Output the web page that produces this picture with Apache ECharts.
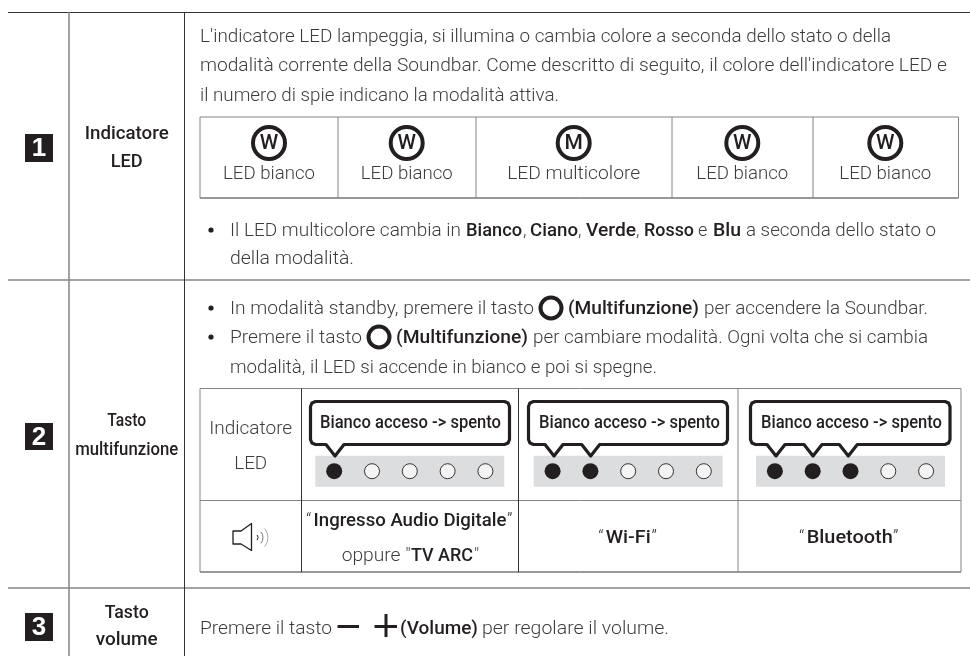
<!DOCTYPE html>
<html>
<head>
<meta charset="utf-8">
<title>Indicatore LED</title>
<script src="https://cdn.jsdelivr.net/npm/echarts@6/dist/echarts.min.js"></script>
<style>
html,body{margin:0;padding:0;background:#fff;}
#main{width:970px;height:656px;}
</style>
</head>
<body>
<div id="main"></div>
<script>
// testi della tabella
var badges = ['1', '2', '3'];
var rowTitles = [['Indicatore', 'LED'], ['Tasto', 'multifunzione'], ['Tasto', 'volume']];
var introLines = [
    "L'indicatore LED lampeggia, si illumina o cambia colore a seconda dello stato o della",
    "modalità corrente della Soundbar. Come descritto di seguito, il colore dell'indicatore LED e",
    "il numero di spie indicano la modalità attiva."
];
var ledLetters = ['W', 'W', 'M', 'W', 'W'];
var ledNames = ['LED bianco', 'LED bianco', 'LED multicolore', 'LED bianco', 'LED bianco'];
var calloutText = 'Bianco acceso -> spento';
var modeNames = ['Wi-Fi', 'Bluetooth'];
var ledCategories = ['1', '2', '3', '4', '5'];
// 1 = acceso, 0 = spento
var ledStrip1 = [1, 0, 0, 0, 0];
var ledStrip2 = [1, 1, 0, 0, 0];
var ledStrip3 = [1, 1, 1, 0, 0];

var DARK = '#231f20', TXT = '#3c3c3c', GREY = '#848484';
var LIGHT = '300 18px Roboto', BOLD = '500 18px Roboto';

var ctx = document.createElement('canvas').getContext('2d');
var els = [];

function seg(str, x, y, w, font, fill, align) {
    font = font || LIGHT;
    ctx.font = font;
    var scale = w ? w / ctx.measureText(str).width : 1;
    els.push({
        type: 'text', x: x, y: y + 1, scaleX: scale, z: 6,
        style: {text: str, x: 0, y: 0, font: font, fill: fill || TXT, textAlign: align || 'left', textVerticalAlign: 'middle'}
    });
}
function line(x1, y1, x2, y2, color, width) {
    els.push({
        type: 'line', z: 1, shape: {x1: x1, y1: y1, x2: x2, y2: y2},
        style: {stroke: color, lineWidth: width || 1}
    });
}
function dot(x, y) {
    els.push({type: 'circle', z: 1, shape: {cx: x, cy: y, r: 2.6}, style: {fill: DARK}});
}
function ring(x, y, r, width) {
    els.push({type: 'circle', z: 1, shape: {cx: x, cy: y, r: r}, style: {fill: '#fff', stroke: DARK, lineWidth: width}});
}
// fumetto con una punta per ogni LED acceso
function callout(x1, x2, tips) {
    var y1 = 401.5, y2 = 444.5, r = 5, k = r * 0.293;
    var pts = [[x1 + r, y1], [x2 - r, y1], [x2 - k, y1 + k], [x2, y1 + r], [x2, y2 - r], [x2 - k, y2 - k], [x2 - r, y2]];
    for (var i = tips.length - 1; i >= 0; i--) {
        pts.push([tips[i] + 9, y2], [tips[i], 456], [tips[i] - 9, y2]);
    }
    pts.push([x1 + r, y2], [x1 + k, y2 - k], [x1, y2 - r], [x1, y1 + r], [x1 + k, y1 + k]);
    els.push({
        type: 'polygon', z: 5, shape: {points: pts},
        style: {fill: '#fff', stroke: DARK, lineWidth: 3.2, lineJoin: 'round'}
    });
}

// griglia esterna
line(8, 12.5, 970, 12.5, '#333', 1);
line(8, 280, 970, 280, GREY, 1.5);
line(8, 588, 970, 588, GREY, 1.5);
line(69, 12, 69, 656, GREY, 1.5);
line(184.5, 12, 184.5, 656, '#333', 1);

// riquadri numerati
[[134, 162], [423, 450], [613, 641]].forEach(function (b, i) {
    els.push({type: 'rect', z: 1, shape: {x: 25, y: b[0], width: 28, height: b[1] - b[0]}, style: {fill: DARK}});
    seg(badges[i], 39, (b[0] + b[1]) / 2, 0, 'bold 26px "Liberation Sans"', '#fff', 'center');
});

// titoli delle righe
var titleY = [[133, 161], [420, 449], [612, 639]];
var titleW = [[84, 32], [39, 103], [44, 62]];
rowTitles.forEach(function (t, i) {
    seg(t[0], 126.7, titleY[i][0], titleW[i][0], BOLD, DARK, 'center');
    seg(t[1], 126.7, titleY[i][1], titleW[i][1], BOLD, DARK, 'center');
});

// sezione 1
seg(introLines[0], 200, 36, 691);
seg(introLines[1], 200, 65, 747);
seg(introLines[2], 200, 95, 359);

line(200, 117, 958.5, 117, GREY, 1);
line(200, 198, 958.5, 198, '#333', 1);
[200, 338, 476, 672, 813, 958.5].forEach(function (x) { line(x, 117, x, 198, GREY, 1); });

var ledX = [269, 406.7, 573.7, 742.3, 885.3];
var ledW = [92, 92, 133, 92, 92];
ledX.forEach(function (x, i) {
    ring(x, 143, 16, 4);
    seg(ledLetters[i], x, 143, 0, '500 21px Roboto', DARK, 'center');
    seg(ledNames[i], x, 173, ledW[i], LIGHT, TXT, 'center');
});

dot(211, 230);
seg('Il LED multicolore cambia in', 230, 230, 231);
seg('Bianco', 466, 230, 56, BOLD, DARK);
seg(',', 523, 230, 0);
seg('Ciano', 530, 230, 48, BOLD, DARK);
seg(',', 578, 230, 0);
seg('Verde', 586, 230, 50, BOLD, DARK);
seg(',', 636, 230, 0);
seg('Rosso', 644, 230, 50, BOLD, DARK);
seg('e', 698, 230, 0);
seg('Blu', 713, 230, 28, BOLD, DARK);
seg('a seconda dello stato o', 746, 230, 190);
seg('della modalità.', 230, 258, 124);

// sezione 2
dot(211, 308);
seg('In modalità standby, premere il tasto', 230, 308, 304);
ring(551, 308, 10.5, 4);
seg('(Multifunzione)', 568, 308, 131, BOLD, DARK);
seg('per accendere la Soundbar.', 704, 308, 224);
dot(211, 337);
seg('Premere il tasto', 230, 337, 132);
ring(379, 337, 10.5, 4);
seg('(Multifunzione)', 396, 337, 132, BOLD, DARK);
seg('per cambiare modalità. Ogni volta che si cambia', 533, 337, 395);
seg('modalità, il LED si accende in bianco e poi si spegne.', 230, 367, 427);

line(200, 388.5, 961, 388.5, GREY, 1);
line(200, 500.5, 961, 500.5, GREY, 1);
line(200, 572, 961, 572, '#333', 1);
[[200, GREY], [301.5, '#333'], [518.5, '#333'], [738, GREY], [961, GREY]].forEach(function (c) {
    line(c[0], 388.5, c[0], 572, c[1], 1);
});

seg('Indicatore', 250.7, 428, 83, LIGHT, TXT, 'center');
seg('LED', 250.7, 463, 33, LIGHT, TXT, 'center');

callout(310.5, 509.5, [335]);
callout(528.5, 727.5, [554, 590.7]);
callout(750.5, 950, [776, 813, 848.3]);
seg(calloutText, 320, 422, 181, BOLD, DARK);
seg(calloutText, 539, 422, 181, BOLD, DARK);
seg(calloutText, 761, 422, 181, BOLD, DARK);

// altoparlante
els.push({
    type: 'polygon', z: 1,
    shape: {points: [[233, 531], [241, 531], [251.5, 523.5], [251.5, 550.5], [241, 544], [233, 544]]},
    style: {fill: '#fff', stroke: DARK, lineWidth: 1.3, lineJoin: 'round'}
});
[[4, DARK], [9, '#777'], [14, '#aaa']].forEach(function (w) {
    els.push({
        type: 'arc', z: 1, shape: {cx: 254, cy: 537.5, r: w[0], startAngle: -0.7, endAngle: 0.7},
        style: {fill: 'none', stroke: w[1], lineWidth: 1}
    });
});

seg('“', 306, 520.5, 0);
seg('Ingresso Audio Digitale', 313.5, 520.5, 193, BOLD, DARK);
seg('”', 507, 520.5, 0);
seg('oppure "', 341.7, 555.5, 69);
seg('TV ARC', 411, 555.5, 62, BOLD, DARK);
seg('"', 474, 555.5, 0);
seg('“', 598.3, 537.5, 0);
seg(modeNames[0], 605.7, 537.5, 45, BOLD, DARK);
seg('”', 651.5, 537.5, 0);
seg('“', 799, 537.5, 0);
seg(modeNames[1], 806.7, 537.5, 86, BOLD, DARK);
seg('”', 893, 537.5, 0);

// sezione 3
seg('Premere il tasto', 200, 628, 132);
els.push({type: 'rect', z: 1, shape: {x: 337.5, y: 625, width: 21.5, height: 3}, style: {fill: DARK}});
els.push({type: 'rect', z: 1, shape: {x: 374.5, y: 625, width: 22.5, height: 3}, style: {fill: DARK}});
els.push({type: 'rect', z: 1, shape: {x: 384.5, y: 614, width: 3, height: 23}, style: {fill: DARK}});
seg('(Volume)', 400, 628, 78, BOLD, DARK);
seg('per regolare il volume.', 482, 628, 187);

// strisce dei LED: griglia con sfondo grigio e scatter
var strips = [ledStrip1, ledStrip2, ledStrip3];
var stripLeft = [315.3, 533.7, 756];
var grids = [], xAxes = [], yAxes = [], series = [];
strips.forEach(function (strip, i) {
    grids.push({left: stripLeft[i], top: 455.7, width: 189, height: 31, show: true, backgroundColor: '#dcddde', borderWidth: 0});
    xAxes.push({gridIndex: i, type: 'category', data: ledCategories, show: false});
    yAxes.push({gridIndex: i, type: 'value', min: -1, max: 1, show: false});
    series.push({
        type: 'scatter', xAxisIndex: i, yAxisIndex: i, silent: true, z: 4,
        data: strip.map(function (on, k) {
            return {
                value: [ledCategories[k], 0],
                symbolSize: on ? 16 : 15,
                itemStyle: on ? {color: DARK, opacity: 1} : {color: '#f4f4f4', borderColor: DARK, borderWidth: 0.9, opacity: 1}
            };
        })
    });
});

var chart = echarts.init(document.getElementById('main'), null, {renderer: 'canvas'});
chart.setOption({
    animation: false,
    backgroundColor: '#fff',
    grid: grids,
    xAxis: xAxes,
    yAxis: yAxes,
    series: series,
    graphic: {elements: els}
});
</script>
</body>
</html>
